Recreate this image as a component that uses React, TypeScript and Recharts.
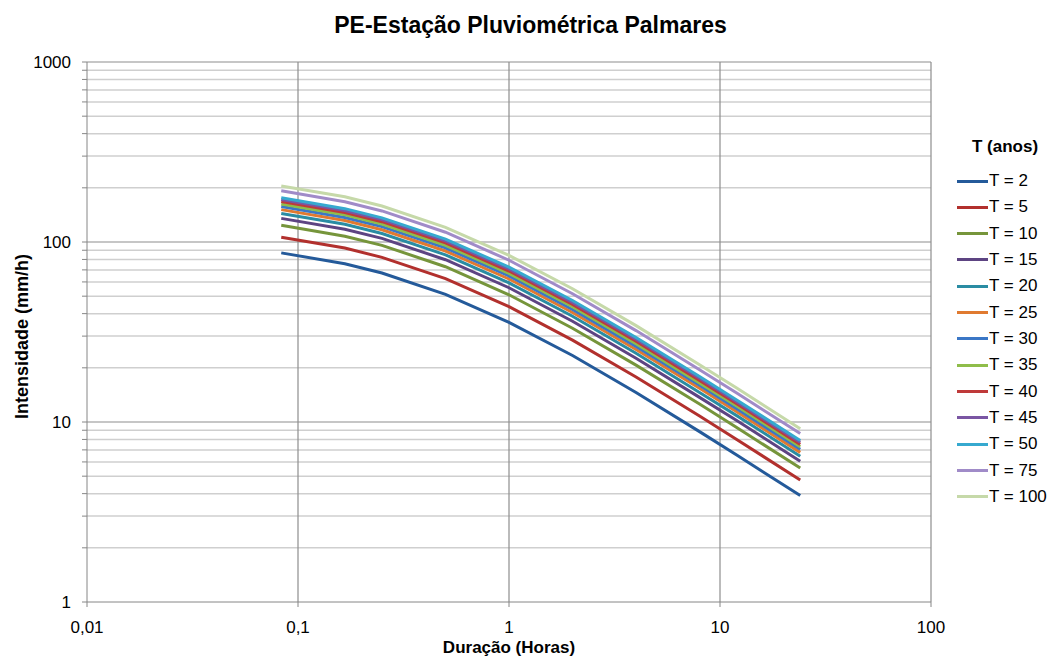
import { LineChart, Line, XAxis, YAxis, CartesianGrid } from 'recharts'

// durações em horas (5, 10, 15, 30 min, 1, 2, 4, 8, 12, 24 h)
const duracoes = [0.0833, 0.1667, 0.25, 0.5, 1, 2, 4, 8, 12, 24]

// intensidades (mm/h) por período de retorno
const t2 = [87.0, 75.7, 67.3, 51.2, 35.8, 23.4, 14.6, 8.84, 6.55, 3.9]
const t5 = [106.3, 92.5, 82.2, 62.6, 43.7, 28.5, 17.8, 10.8, 8.0, 4.76]
const t10 = [123.8, 107.7, 95.8, 72.9, 50.9, 33.2, 20.7, 12.6, 9.32, 5.55]
const t15 = [135.3, 117.7, 104.7, 79.7, 55.7, 36.3, 22.6, 13.7, 10.19, 6.06]
const t20 = [144.1, 125.4, 111.5, 84.9, 59.3, 38.7, 24.1, 14.6, 10.85, 6.46]
const t25 = [151.3, 131.6, 117.0, 89.1, 62.3, 40.6, 25.3, 15.4, 11.39, 6.78]
const t30 = [157.4, 136.9, 121.8, 92.7, 64.8, 42.2, 26.3, 16.0, 11.85, 7.05]
const t35 = [162.8, 141.6, 125.9, 95.9, 67.0, 43.7, 27.2, 16.5, 12.26, 7.29]
const t40 = [167.7, 145.9, 129.7, 98.8, 69.0, 45.0, 28.1, 17.0, 12.63, 7.51]
const t45 = [172.1, 149.7, 133.1, 101.4, 70.8, 46.2, 28.8, 17.5, 12.96, 7.71]
const t50 = [176.1, 153.2, 136.2, 103.7, 72.5, 47.3, 29.5, 17.9, 13.26, 7.89]
const t75 = [192.4, 167.4, 148.8, 113.3, 79.2, 51.6, 32.2, 19.5, 14.49, 8.62]
const t100 = [204.9, 178.3, 158.5, 120.7, 84.3, 55.0, 34.3, 20.8, 15.43, 9.18]

const series = [
  { key: 't2', name: 'T = 2', values: t2, color: '#245a9a' },
  { key: 't5', name: 'T = 5', values: t5, color: '#b2302d' },
  { key: 't10', name: 'T = 10', values: t10, color: '#76953b' },
  { key: 't15', name: 'T = 15', values: t15, color: '#5d4482' },
  { key: 't20', name: 'T = 20', values: t20, color: '#2a8ca3' },
  { key: 't25', name: 'T = 25', values: t25, color: '#e07a30' },
  { key: 't30', name: 'T = 30', values: t30, color: '#3b77c6' },
  { key: 't35', name: 'T = 35', values: t35, color: '#8fbd4a' },
  { key: 't40', name: 'T = 40', values: t40, color: '#bf3a3a' },
  { key: 't45', name: 'T = 45', values: t45, color: '#7a56a3' },
  { key: 't50', name: 'T = 50', values: t50, color: '#36a9cf' },
  { key: 't75', name: 'T = 75', values: t75, color: '#a08bc8' },
  { key: 't100', name: 'T = 100', values: t100, color: '#c6d9a9' },
]

const xTicks = [0.01, 0.1, 1, 10, 100]
const yMajor = [1, 10, 100, 1000]
const yMinor = [2, 3, 4, 5, 6, 7, 8, 9, 20, 30, 40, 50, 60, 70, 80, 90, 200, 300, 400, 500, 600, 700, 800, 900]
const yTicks = [...yMajor, ...yMinor].sort((a, b) => a - b)

const data = duracoes.map((d, i) => {
  const row: Record<string, number> = { d }
  series.forEach((s) => (row[s.key] = s.values[i]))
  return row
})

const font = '"Liberation Sans", Arial, sans-serif'

function YTick(props: any) {
  const { x, y, payload } = props
  if (!yMajor.includes(payload.value)) return null
  return (
    <text x={x - 8} y={y} dy={6} textAnchor="end" fontSize={17} fontFamily={font} fill="#000">
      {payload.value}
    </text>
  )
}

function XTick(props: any) {
  const { x, y, payload } = props
  return (
    <text x={x} y={y} dy={23} textAnchor="middle" fontSize={17} fontFamily={font} fill="#000">
      {String(payload.value).replace('.', ',')}
    </text>
  )
}

export default function App() {
  return (
    <div
      style={{
        position: 'fixed', left: 0, top: 0, width: 1051, height: 657,
        fontFamily: font, color: '#000', background: '#fff', overflow: 'hidden',
      }}
    >
      <div
        style={{
          position: 'absolute', left: 0, top: 11, width: 1061, textAlign: 'center',
          fontSize: 23, lineHeight: '28px', fontWeight: 'bold',
        }}
      >
        PE-Estação Pluviométrica Palmares
      </div>
      <LineChart
        width={1051}
        height={657}
        data={data}
        margin={{ top: 62, right: 120, bottom: 25, left: 0 }}
      >
        <CartesianGrid horizontalValues={yMinor} vertical={false} stroke="#cfcfcf" strokeWidth={1.5} />
        <CartesianGrid horizontalValues={yMajor.slice(1)} verticalValues={xTicks.slice(1)} stroke="#8e8e8e" strokeWidth={1.2} />
        <XAxis
          dataKey="d"
          type="number"
          scale="log"
          domain={[0.01, 100]}
          ticks={xTicks}
          allowDataOverflow
          height={30}
          tickSize={5}
          tickMargin={3}
          tick={<XTick />}
          stroke="#868686"
        />
        <YAxis
          type="number"
          scale="log"
          domain={[1, 1000]}
          ticks={yTicks}
          allowDataOverflow
          width={87}
          tickSize={5}
          tickMargin={3}
          interval={0}
          tick={<YTick />}
          stroke="#868686"
        />
        {series.map((s) => (
          <Line
            key={s.key}
            dataKey={s.key}
            name={s.name}
            type="linear"
            stroke={s.color}
            strokeWidth={3}
            dot={false}
            isAnimationActive={false}
          />
        ))}
      </LineChart>
      <div
        style={{
          position: 'absolute', left: 12, top: 326, width: 20, height: 20,
          display: 'flex', alignItems: 'center', justifyContent: 'center',
        }}
      >
        <div style={{ transform: 'rotate(-90deg)', whiteSpace: 'nowrap', fontSize: 18, fontWeight: 'bold' }}>
          Intensidade (mm/h)
        </div>
      </div>
      <div
        style={{
          position: 'absolute', left: 409, width: 200, top: 638, textAlign: 'center',
          fontSize: 17, lineHeight: '20px', fontWeight: 'bold',
        }}
      >
        Duração (Horas)
      </div>
      <div
        style={{
          position: 'absolute', left: 955, top: 136, width: 100, textAlign: 'center',
          fontSize: 17, lineHeight: '22px', fontWeight: 'bold',
        }}
      >
        T (anos)
      </div>
      {series.map((s, i) => (
        <div
          key={s.key}
          style={{
            position: 'absolute', left: 957, top: 171 + i * 26.33, height: 20,
            display: 'flex', alignItems: 'center', fontSize: 17, whiteSpace: 'nowrap',
          }}
        >
          <span style={{ display: 'inline-block', width: 31, height: 3, background: s.color, marginRight: 1 }} />
          {s.name}
        </div>
      ))}
    </div>
  )
}
